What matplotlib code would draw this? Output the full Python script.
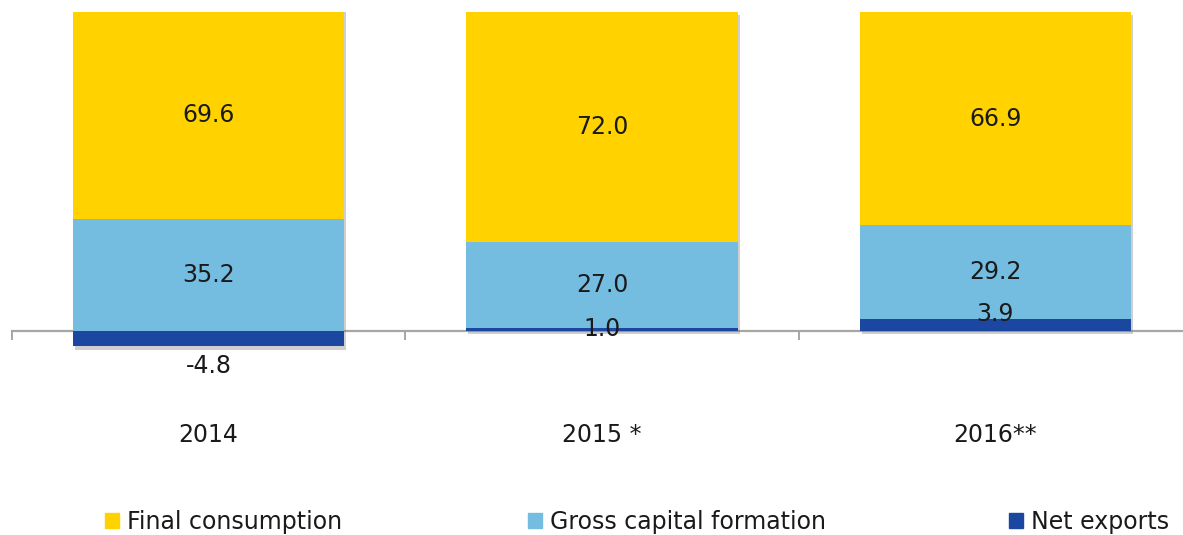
"""GDP by expenditure — stacked bars, contributions in percent."""
import matplotlib
matplotlib.use('Agg')
import matplotlib.pyplot as plt
import matplotlib.patches as mpatches
import matplotlib.patheffects as pe
import numpy as np

# 資料
years = ['2014', '2015 *', '2016**']
final_consumption = [69.6, 72.0, 66.9]
gross_capital = [35.2, 27.0, 29.2]
net_exports = [-4.8, 1.0, 3.9]
series_names = ['Final consumption', 'Gross capital formation', 'Net exports']

# 樣式
c_fc, c_gcf, c_ne = '#FFD200', '#74BDE0', '#1B47A0'
txt_c = '#1a1a1a'
fs = 17
ne_label_offsets = [-20, 0, 8]   # 點，net exports 標籤微調

plt.rcParams['font.family'] = ['DejaVu Sans']

W, H = 1183, 535
fig = plt.figure(figsize=(W / 100, H / 100), dpi=100)
zero_px, top_px, bot_px = 331, 12, 380
ax = fig.add_axes([12 / W, 1 - bot_px / H, 1180 / W, (bot_px - top_px) / H])
y_top = 100

x = np.arange(len(years))
bw = 0.69

ne = np.array(net_exports)
gcf = np.array(gross_capital)
fc = np.array(final_consumption)
base_gcf = np.where(ne > 0, ne, 0)
base_fc = base_gcf + gcf
stack_lo = np.minimum(ne, 0)
stack_hi = base_fc + fc

# 整根柱子的陰影（放在底層，避免各段之間出現暗線）
shadow_bars = ax.bar(x, stack_hi - stack_lo, bw, bottom=stack_lo, color='white', zorder=2.8)
for b in shadow_bars:
    b.set_path_effects([pe.SimplePatchShadow(offset=(1.5, -2.5), shadow_rgbFace='#777777',
                                             alpha=0.35), pe.Normal()])

ax.bar(x, ne, bw, color=c_ne, zorder=3)
ax.bar(x, gcf, bw, bottom=base_gcf, color=c_gcf, zorder=3)
ax.bar(x, fc, bw, bottom=base_fc, color=c_fc, zorder=3)

# 數值標籤（置於可見部分的中間）
for i in range(len(x)):
    fc_mid = (base_fc[i] + min(stack_hi[i], y_top)) / 2
    ax.text(x[i], fc_mid, f'{fc[i]:.1f}', ha='center', va='center',
            fontsize=fs, color=txt_c, zorder=5)
    ax.text(x[i], base_gcf[i] + gcf[i] / 2, f'{gcf[i]:.1f}', ha='center', va='center',
            fontsize=fs, color=txt_c, zorder=5)
    ax.annotate(f'{ne[i]:.1f}', (x[i], ne[i] / 2), xytext=(0, ne_label_offsets[i]),
                textcoords='offset points', ha='center', va='center',
                fontsize=fs, color=txt_c, zorder=5)

scale = (zero_px - top_px) / y_top
ax.set_ylim(-(bot_px - zero_px) / scale, y_top)
ax.set_xlim(-0.5, len(x) - 0.5)

for s in ['top', 'right', 'left']:
    ax.spines[s].set_visible(False)
ax.spines['bottom'].set_position(('data', 0))
ax.spines['bottom'].set_color('#A6A6A6')
ax.spines['bottom'].set_linewidth(1.6)
ax.spines['bottom'].set_zorder(2)
ax.set_yticks([])
ax.set_xticks(x)
ax.set_xticklabels(years, fontsize=fs, color=txt_c)
ax.set_xticks(np.arange(len(x) + 1) - 0.5, minor=True)
ax.tick_params(axis='x', which='major', length=0, pad=66)
ax.tick_params(axis='x', which='minor', length=6.5, width=1.4, color='#A6A6A6', direction='out')
ax.set_facecolor('none')

# 圖例（Excel 風格，各項分開擺）
leg_x = [105, 528, 1009]
for name, col, lx in zip(series_names, [c_fc, c_gcf, c_ne], leg_x):
    fig.legend(handles=[mpatches.Patch(color=col, label=name)], loc='center left',
               bbox_to_anchor=(lx / W, 1 - 522 / H), frameon=False, fontsize=fs,
               handlelength=0.6, handleheight=0.6, handletextpad=0.35,
               borderpad=0, borderaxespad=0, labelcolor=txt_c)

fig.savefig('out.png', dpi=100)
